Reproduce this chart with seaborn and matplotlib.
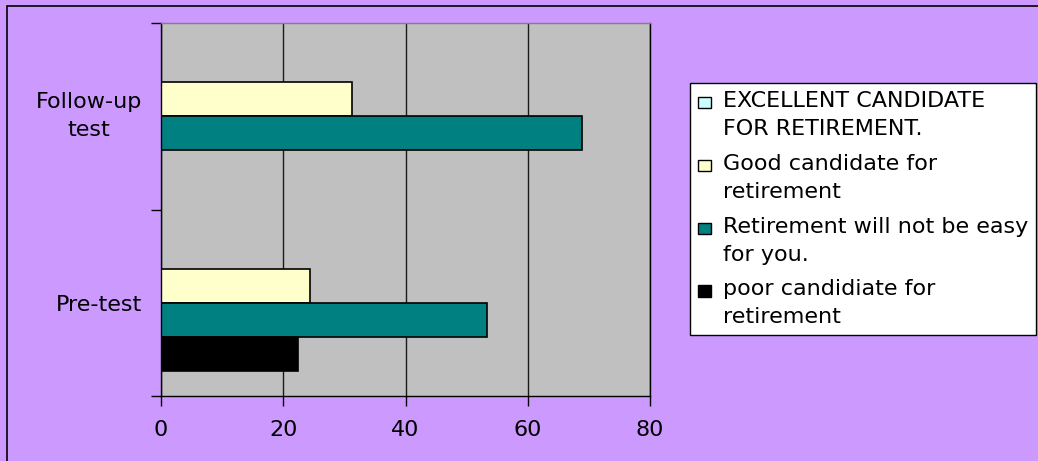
import numpy as np
import pandas as pd
import matplotlib
matplotlib.use("Agg")
import matplotlib.pyplot as plt
import seaborn as sns
from matplotlib.patches import Rectangle
from matplotlib.legend_handler import HandlerPatch

# ---- data ----
categories = ["Follow-up test", "Pre-test"]
category_labels = ["Follow-up\ntest", "Pre-test"]
series = ["EXCELLENT CANDIDATE FOR RETIREMENT.",
          "Good candidate for retirement",
          "Retirement will not be easy for you.",
          "poor candidiate for retirement"]
legend_labels = ["EXCELLENT CANDIDATE\nFOR RETIREMENT.",
                 "Good candidate for\nretirement",
                 "Retirement will not be easy\nfor you.",
                 "poor candidiate for\nretirement"]
excellent = [0, 0]
good = [31.2, 24.3]
not_easy = [68.9, 53.4]
poor = [0, 22.4]
x_ticks = [0, 20, 40, 60, 80]
colors = ["#CCFFFF", "#FFFFCC", "#008080", "#000000"]

values = [excellent, good, not_easy, poor]
rows = []
for s, vals in zip(series, values):
    for c, v in zip(categories, vals):
        rows.append({"test": c, "series": s, "value": v})
df = pd.DataFrame(rows)

sns.set_theme(style="white")
plt.rcParams["font.family"] = ["DejaVu Sans"]

W, H = 1038, 461
FS = 16
LS = 1.5

fig = plt.figure(figsize=(W / 100, H / 100), dpi=100, facecolor="#CC99FF")
ax = fig.add_axes([161 / W, 1 - 396 / H, 489 / W, 373 / H])
ax.set_facecolor("#C0C0C0")

sns.barplot(data=df, y="test", x="value", hue="series", order=categories,
            hue_order=series, palette=colors, orient="h", width=0.73,
            edgecolor="black", linewidth=1.2, saturation=1, errorbar=None,
            legend=False, ax=ax)

ax.set_xlim(0, 80)
ax.set_ylim(1.5, -0.5)
ax.set_xlabel("")
ax.set_ylabel("")
ax.set_xticks(x_ticks)
ax.set_xticklabels([str(t) for t in x_ticks])
ax.set_yticks([0, 1])
ax.set_yticklabels(category_labels)
for t in ax.get_yticklabels():
    t.set_multialignment("center")
    t.set_linespacing(LS)
    if "\n" in t.get_text():
        t.set_verticalalignment("center")
ax.set_yticks([-0.5, 0.5, 1.5], minor=True)
ax.tick_params(axis="y", which="major", length=0, pad=13.5, labelsize=FS,
               labelcolor="black", left=True)
ax.tick_params(axis="y", which="minor", length=7, width=1, color="black",
               direction="out", left=True)
ax.tick_params(axis="x", which="major", length=7, width=1, color="black",
               direction="out", bottom=True, pad=10, labelsize=FS,
               labelcolor="black")
ax.grid(axis="x", color="#1a1a1a", linewidth=1)
ax.grid(axis="y", visible=False)
ax.set_axisbelow(True)
for side in ["left", "bottom", "right"]:
    ax.spines[side].set_visible(True)
    ax.spines[side].set_color("black")
    ax.spines[side].set_linewidth(1)
ax.spines["top"].set_visible(True)
ax.spines["top"].set_color("#808080")
ax.spines["top"].set_linewidth(1)

# ---- legend ----
def top_square(legend, orig_handle, xdescent, ydescent, width, height, fontsize):
    step = 0.76 * fontsize * LS - 0.47 * fontsize
    return Rectangle((-xdescent, step), width, 0.5 * fontsize)

handles = [Rectangle((0, 0), 1, 1, facecolor=c, edgecolor="black", linewidth=1)
           for c in colors]
hmap = {h: HandlerPatch(patch_func=top_square) for h in handles}
leg = fig.legend(handles, legend_labels, loc="upper left",
                 bbox_to_anchor=(690 / W, 1 - 83 / H),
                 bbox_transform=fig.transFigure, borderaxespad=0,
                 fontsize=FS, handlelength=0.6, handletextpad=0.55,
                 borderpad=0.35, labelspacing=0.67, fancybox=False,
                 framealpha=1, facecolor="white", edgecolor="black",
                 handler_map=hmap)
leg.get_frame().set_linewidth(1)
for t in leg.get_texts():
    t.set_linespacing(LS)
    t.set_color("black")

# outer chart border (left and top visible)
fig.add_artist(Rectangle((7 / W, -0.2), 1.2, 1.2 - 6 / H, transform=fig.transFigure,
                         fill=False, edgecolor="black", linewidth=1.2))

fig.savefig("out.png", dpi=100, facecolor=fig.get_facecolor())
